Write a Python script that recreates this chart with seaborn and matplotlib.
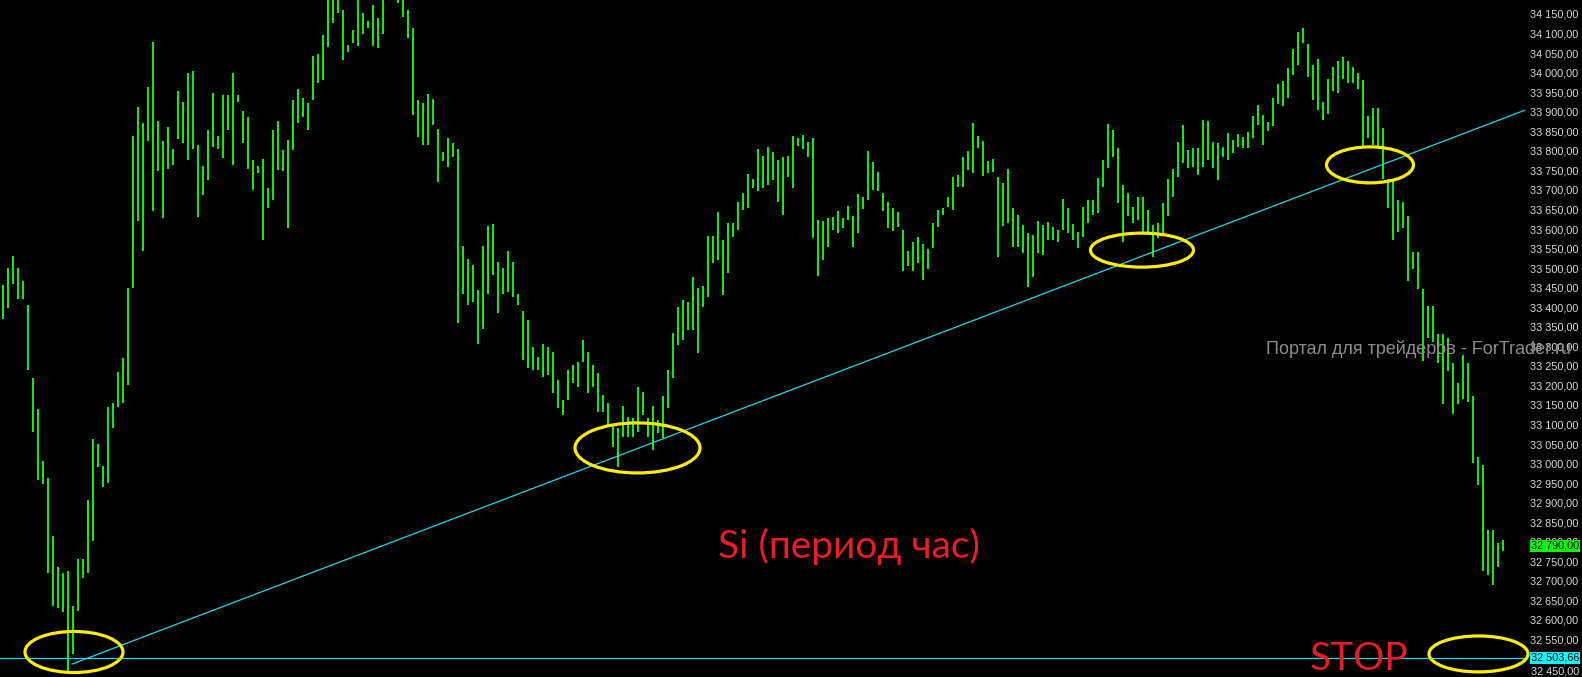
import matplotlib
matplotlib.use('Agg')
import matplotlib.pyplot as plt
from matplotlib.patches import Ellipse
import numpy as np
import pandas as pd
import seaborn as sns

# hourly bars (high / low per bar)
highs = [33457, 33499, 33532, 33501, 33466, 33405, 33219, 33139, 33006, 32962,
         32815, 32735, 32719, 32726, 32635, 32757, 32757, 32907, 33062, 33051,
         32995, 33145, 33156, 33233, 33269, 33449, 33837, 33911, 33870, 33964,
         34078, 33876, 33826, 33862, 33804, 33953, 33926, 33998, 34003, 33815,
         33760, 33854, 33948, 33837, 33942, 33942, 34000, 33944, 33903, 33887,
         33776, 33760, 33778, 33704, 33853, 33877, 33802, 33828, 33930, 33957,
         33934, 33922, 34043, 34048, 34096, 34195, 34200, 34210, 34160, 34071,
         34109, 34195, 34153, 34133, 34173, 34141, 34205, 34240, 34250, 34220,
         34210, 34160, 34113, 33930, 33922, 33945, 33932, 33855, 33798, 33832,
         33819, 33804, 33556, 33522, 33508, 33444, 33556, 33608, 33613, 33516,
         33499, 33545, 33516, 33435, 33389, 33367, 33299, 33273, 33306, 33299,
         33286, 33214, 33163, 33239, 33252, 33261, 33316, 33286, 33252, 33231,
         33175, 33154, 33099, 33090, 33147, 33120, 33116, 33197, 33184, 33116,
         33146, 33111, 33173, 33239, 33333, 33401, 33418, 33414, 33478, 33448,
         33453, 33582, 33582, 33644, 33572, 33615, 33615, 33670, 33691, 33741,
         33727, 33804, 33787, 33811, 33798, 33776, 33785, 33787, 33838, 33832,
         33840, 33823, 33834, 33623, 33621, 33627, 33630, 33647, 33627, 33659,
         33633, 33690, 33683, 33800, 33772, 33747, 33693, 33670, 33655, 33644,
         33597, 33545, 33568, 33580, 33562, 33548, 33615, 33649, 33653, 33683,
         33734, 33738, 33785, 33800, 33870, 33838, 33826, 33775, 33778, 33732,
         33717, 33753, 33653, 33636, 33610, 33589, 33585, 33620, 33610, 33619,
         33606, 33597, 33677, 33653, 33613, 33593, 33657, 33674, 33674, 33730,
         33777, 33869, 33853, 33806, 33713, 33691, 33657, 33683, 33683, 33649,
         33610, 33616, 33666, 33727, 33753, 33823, 33866, 33802, 33806, 33806,
         33879, 33875, 33823, 33821, 33811, 33846, 33828, 33843, 33835, 33849,
         33890, 33916, 33892, 33874, 33936, 33970, 33978, 34011, 34060, 34103,
         34114, 34072, 34020, 34036, 33926, 33983, 34015, 34030, 34041, 34030,
         34015, 33999, 33980, 33889, 33910, 33910, 33858, 33728, 33722, 33675,
         33670, 33634, 33540, 33540, 33446, 33404, 33404, 33331, 33331, 33320,
         33258, 33205, 33278, 33258, 33174, 33017, 32997, 32830, 32830, 32798,
         32804]
lows = [33369, 33397, 33460, 33422, 33422, 33239, 33081, 32957, 32948, 32719,
        32635, 32630, 32619, 32469, 32514, 32624, 32707, 32719, 32802, 32990,
        32940, 32951, 33090, 33145, 33156, 33202, 33449, 33621, 33544, 33826,
        33645, 33748, 33629, 33754, 33765, 33831, 33820, 33776, 33804, 33630,
        33688, 33726, 33809, 33804, 33782, 33854, 33765, 33926, 33820, 33754,
        33699, 33743, 33572, 33653, 33674, 33751, 33749, 33603, 33802, 33872,
        33886, 33853, 33930, 33973, 33981, 34065, 34128, 34153, 34032, 34054,
        34075, 34068, 34100, 34113, 34068, 34062, 34100, 34190, 34195, 34177,
        34143, 34088, 33892, 33836, 33815, 33815, 33866, 33719, 33775, 33759,
        33785, 33360, 33435, 33406, 33414, 33306, 33343, 33435, 33482, 33386,
        33435, 33440, 33427, 33406, 33265, 33244, 33239, 33239, 33222, 33226,
        33180, 33141, 33124, 33163, 33205, 33197, 33261, 33180, 33197, 33133,
        33133, 33099, 33043, 32992, 33067, 33069, 33069, 33082, 33124, 33069,
        33035, 33077, 33065, 33141, 33218, 33303, 33316, 33342, 33342, 33282,
        33401, 33427, 33512, 33521, 33431, 33487, 33580, 33597, 33649, 33653,
        33704, 33698, 33704, 33713, 33725, 33670, 33636, 33734, 33704, 33812,
        33804, 33785, 33576, 33480, 33521, 33555, 33597, 33591, 33603, 33623,
        33555, 33589, 33650, 33674, 33700, 33698, 33646, 33602, 33596, 33604,
        33493, 33505, 33493, 33512, 33470, 33497, 33551, 33606, 33636, 33657,
        33649, 33707, 33707, 33751, 33744, 33806, 33736, 33742, 33747, 33529,
        33608, 33615, 33555, 33553, 33538, 33452, 33478, 33538, 33533, 33572,
        33572, 33568, 33597, 33589, 33572, 33551, 33580, 33615, 33636, 33640,
        33708, 33755, 33783, 33666, 33568, 33632, 33615, 33623, 33589, 33589,
        33529, 33576, 33589, 33632, 33683, 33734, 33768, 33755, 33759, 33738,
        33759, 33777, 33755, 33725, 33785, 33777, 33794, 33809, 33806, 33806,
        33832, 33866, 33816, 33851, 33863, 33921, 33915, 33936, 33994, 34020,
        34077, 33989, 33931, 33905, 33879, 33895, 33952, 33947, 33983, 33973,
        33973, 33959, 33811, 33832, 33816, 33811, 33728, 33654, 33571, 33592,
        33602, 33466, 33498, 33446, 33263, 33320, 33310, 33258, 33153, 33237,
        33127, 33153, 33164, 33158, 33002, 32944, 32725, 32715, 32689, 32736,
        32777]

# analyst drawings: trend line, stop level, marked touches
trend_bar = [13.9, 304.5]
trend_price = [32487, 33904]
stop_price = 32503.66
last_price = 32790.00

mark_bar = [14.3, 127.0, 227.9, 273.5, 295.2]
mark_price = [32518, 33040, 33546, 33764, 32513]
mark_w = [19.6, 25.0, 20.6, 17.4, 19.8]
mark_h = [105, 128, 87, 92, 92]

price_ticks = list(range(32500, 34151, 50))
note_text = 'Si (период час)'
stop_text = 'STOP'
watermark = 'Портал для трейдеров - ForTrader.ru'


def fmt(v):
    return f'{v:,.2f}'.replace(',', ' ').replace('.', ',')


df = pd.DataFrame({'bar': np.arange(len(highs)), 'high': highs, 'low': lows})
trend = pd.DataFrame({'bar': trend_bar, 'price': trend_price})

sns.set_theme(style='dark', rc={'axes.facecolor': 'black',
                                'figure.facecolor': 'black',
                                'axes.grid': False})
plt.rcParams['font.family'] = ['Liberation Sans', 'DejaVu Sans']

fig = plt.figure(figsize=(15.82, 6.77), dpi=100)
ax = fig.add_axes([0, 0, 1527 / 1582, 1])

ax.vlines(df['bar'], df['low'], df['high'], color='#10ec10',
          linewidth=1.2, antialiased=False, zorder=2)

sns.lineplot(data=trend, x='bar', y='price', ax=ax, color='#22d8ec',
             linewidth=0.9, zorder=3)
ax.axhline(stop_price, color='#22d8ec', linewidth=0.9, zorder=3)

for b, p, w, h in zip(mark_bar, mark_price, mark_w, mark_h):
    ax.add_patch(Ellipse((b, p), w, h, fill=False, edgecolor='#ffee00',
                         linewidth=2.3, clip_on=False, zorder=4))

ax.text(143.1, 32758, note_text, color='#ec1c24', fontsize=28,
        family=['Lato', 'DejaVu Sans'], va='baseline', ha='left')
ax.text(261.5, 32472, stop_text, color='#ec1c24', fontsize=28,
        family=['Lato', 'DejaVu Sans'], va='baseline', ha='left')

ax.set_xlim(-0.5, 304.9)
ax.set_ylim(32454.0, 34185.8)
ax.set_xticks([])
ax.set_xlabel('')
ax.set_ylabel('')
ax.yaxis.tick_right()
ax.set_yticks(price_ticks)
ax.set_yticklabels([fmt(v) for v in price_ticks])
ax.tick_params(axis='y', length=0, pad=2.5, labelsize=7.8, labelcolor='#d8d8d8')
for s in ax.spines.values():
    s.set_visible(False)

ax.annotate(fmt(32450), xy=(1, 32450), xycoords=('axes fraction', 'data'),
            xytext=(4, 7), textcoords='offset pixels', va='center',
            fontsize=7.8, color='#d8d8d8', annotation_clip=False)
ax.annotate(fmt(last_price), xy=(1, last_price),
            xycoords=('axes fraction', 'data'), xytext=(4, 0),
            textcoords='offset pixels', va='center', fontsize=7.8, color='black',
            bbox=dict(boxstyle='square,pad=0.1', fc='#00ff00', ec='none'),
            annotation_clip=False, zorder=10)
ax.annotate(fmt(stop_price), xy=(1, stop_price),
            xycoords=('axes fraction', 'data'), xytext=(4, 0),
            textcoords='offset pixels', va='center', fontsize=7.8, color='black',
            bbox=dict(boxstyle='square,pad=0.1', fc='#00ffff', ec='none'),
            annotation_clip=False, zorder=10)

fig.text(1266 / 1582, 1 - 349 / 677, watermark, color='#8c8c8c',
         fontsize=13, va='center', ha='left')

fig.savefig('out.png', dpi=100, facecolor='black')
